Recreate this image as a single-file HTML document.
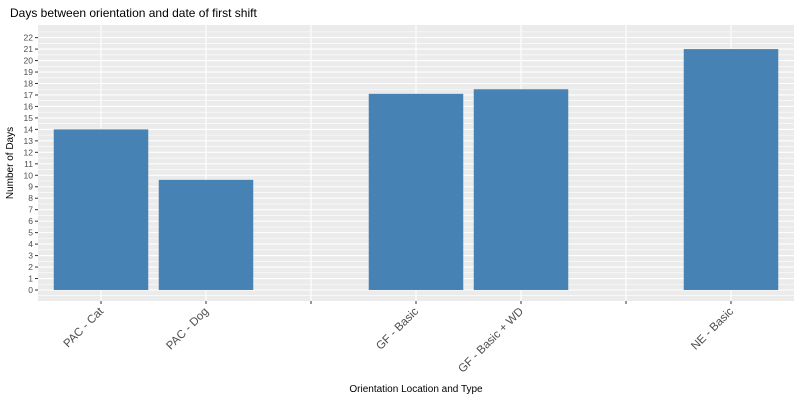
<!DOCTYPE html>
<html><head><meta charset="utf-8"><style>
body{margin:0;background:#fff;font-family:"Liberation Sans",sans-serif}
</style></head><body>
<svg id="c" width="800" height="400" xmlns="http://www.w3.org/2000/svg"></svg>
<script>
const categories=["PAC - Cat","PAC - Dog","","GF - Basic","GF - Basic + WD","","NE - Basic"];
const values=[14,9.6,null,17.1,17.5,null,21];
const yTicks=[0,1,2,3,4,5,6,7,8,9,10,11,12,13,14,15,16,17,18,19,20,21,22];
const NS="http://www.w3.org/2000/svg";
const svg=document.getElementById('c');
const L=38,R=794,T=25,B=301,yMin=-0.96,yMax=23.1;
const n=categories.length,step=(R-L)/(n-1+1.2);
const xs=i=>L+(0.6+i)*step;
const ys=v=>B-(v-yMin)/(yMax-yMin)*(B-T);
function mk(t,a,p){const e=document.createElementNS(NS,t);for(const k in a)e.setAttribute(k,a[k]);(p||svg).appendChild(e);return e;}
const title=mk('text',{x:10,y:17,'font-size':12,fill:'#000'});title.textContent="Days between orientation and date of first shift";


const panel=mk('rect',{x:L,y:T,width:R-L,height:B-T,fill:'#ebebeb'});


yTicks.forEach(v=>{
 mk('line',{x1:L,x2:R,y1:ys(v+0.5),y2:ys(v+0.5),stroke:'#fff','stroke-width':0.6});
 mk('line',{x1:L,x2:R,y1:ys(v),y2:ys(v),stroke:'#fff','stroke-width':1.1});
 mk('line',{x1:L-3,x2:L,y1:ys(v),y2:ys(v),stroke:'#333','stroke-width':1});
 const t=mk('text',{x:L-5,y:ys(v)+3,'font-size':8.5,fill:'#4d4d4d','text-anchor':'end'});t.textContent=v;
 
 
});
mk('line',{x1:L,x2:R,y1:ys(-0.5),y2:ys(-0.5),stroke:'#fff','stroke-width':0.6});
categories.forEach((c,i)=>{
 const x=xs(i);
 mk('line',{x1:x,x2:x,y1:T,y2:B,stroke:'#fff','stroke-width':1.1});
 mk('line',{x1:x,x2:x,y1:B,y2:B+3,stroke:'#333','stroke-width':1});
 const t=mk('text',{x:x+3,y:B+11,'font-size':11.5,fill:'#4d4d4d','text-anchor':'end',transform:`rotate(-45 ${x+3} ${B+11})`});t.textContent=c;
 
 
});
values.forEach((v,i)=>{
 if(v==null)return;
 const w=step*0.9;
 const r=mk('rect',{x:xs(i)-w/2,y:ys(v),width:w,height:ys(0)-ys(v),fill:'#4682b4'});
 
 
});
const xt=mk('text',{x:(L+R)/2,y:392,'font-size':10,fill:'#000','text-anchor':'middle'});xt.textContent="Orientation Location and Type";


const yt=mk('text',{x:13,y:163,'font-size':10,fill:'#000','text-anchor':'middle',transform:'rotate(-90 13 163)'});yt.textContent="Number of Days";


</script>
</body></html>
